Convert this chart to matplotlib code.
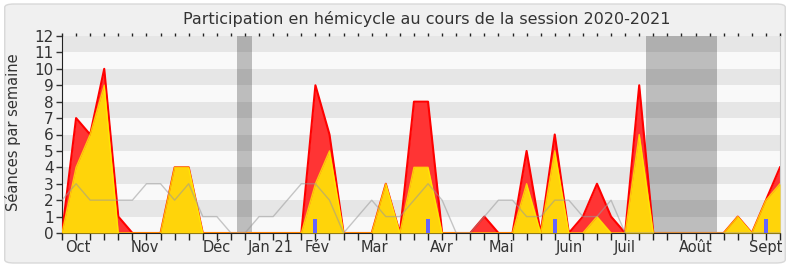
import numpy as np
import matplotlib.pyplot as plt
from matplotlib.patches import FancyBboxPatch

# semaines de la session (index 0 = fin septembre 2020)
weeks = np.arange(52)

presence = [0, 7, 6, 10, 1, 0, 0, 0, 4, 4, 0, 0, 0, 0, 0, 0, 0, 0, 9, 6,
            0, 0, 0, 3, 0, 8, 8, 0, 0, 0, 1, 0, 0, 5, 0, 6, 0, 1, 3, 1,
            0, 9, 0, 0, 0, 0, 0, 0, 1, 0, 2, 4]
interventions = [0, 4, 6, 9, 0, 0, 0, 0, 4, 4, 0, 0, 0, 0, 0, 0, 0, 0, 3, 5,
                 0, 0, 0, 3, 0, 4, 4, 0, 0, 0, 0, 0, 0, 3, 0, 5, 0, 0, 1, 0,
                 0, 6, 0, 0, 0, 0, 0, 0, 1, 0, 2, 3]
mediane = [2, 3, 2, 2, 2, 2, 3, 3, 2, 3, 1, 1, 0, 0, 1, 1, 2, 3, 3, 2,
           0, 1, 2, 1, 1, 2, 3, 2, 0, 0, 1, 2, 2, 1, 1, 2, 2, 1, 1, 2,
           0, 0, 0, 0, 0, 0, 0, 0, 0, 0, 0, 0]
questions = {18: 0.85, 26: 0.85, 35: 0.85, 50: 0.85}

vacances = [(12.45, 13.5), (41.5, 46.5)]

mois = ["Oct", "Nov", "Déc", "Jan 21", "Fév", "Mar", "Avr", "Mai",
        "Juin", "Juil", "Août", "Sept"]
mois_pos = [1.1, 5.9, 11.0, 14.85, 18.1, 22.2, 27.0, 31.2, 36.0, 39.95, 45.0, 50.0]

txt = "#333333"

fig = plt.figure(figsize=(7.9, 2.67), dpi=100)
fig.patch.set_facecolor("white")
fig.patches.append(FancyBboxPatch((0.006, 0.015), 0.988, 0.97,
                                  boxstyle="round,pad=0,rounding_size=0.012",
                                  transform=fig.transFigure, facecolor="#f0f0f0",
                                  edgecolor="#d8d8d8", linewidth=1, zorder=-10))

ax = fig.add_axes([62 / 790, 34 / 267, 718 / 790, 197 / 267])
ax.set_facecolor("#f9f9f9")
for k in range(1, 12, 2):
    ax.axhspan(k, k + 1, color="#e6e6e6", lw=0, zorder=0)
for a, b in vacances:
    ax.axvspan(a, b, color="black", alpha=0.24, lw=0, zorder=1)

ax.fill_between(weeks, presence, color="#ff3434", lw=0, zorder=2)
ax.plot(weeks, presence, color="#ff0000", lw=1.5, zorder=3)
ax.fill_between(weeks, interventions, color="#ffd40a", lw=0, zorder=4)
ax.plot(weeks, interventions, color="#ffee00", lw=1, alpha=0.8, zorder=5)
ax.plot(weeks, mediane, color="#9a9a9a", lw=1, alpha=0.55, zorder=6)
ax.bar(list(questions.keys()), list(questions.values()), width=0.28,
       color="#6464ff", zorder=7)

ax.set_xlim(0, 51)
ax.set_ylim(0, 12)
ax.set_yticks(range(13))
ax.tick_params(axis="y", labelsize=11, colors=txt, length=4, width=1, pad=2)
ax.xaxis.remove_overlapping_locs = False
ax.set_xticks(weeks, [""] * len(weeks))
ax.tick_params(axis="x", which="major", length=5, width=1, color="#222222",
               top=True)
ax.set_xticks(mois_pos, mois, minor=True)
ax.tick_params(axis="x", which="minor", length=0, pad=5, labelsize=10.5,
               labelcolor=txt)
for t in ax.xaxis.get_major_ticks():
    t.tick2line.set_markersize(2)

ax.spines["top"].set_visible(False)
ax.spines["right"].set_color("#cccccc")
ax.spines["left"].set_color("#222222")
ax.spines["bottom"].set_color("#222222")

fig.text(13 / 790, 1 - 132 / 267, "Séances par semaine", rotation=90,
         ha="center", va="center", fontsize=10.5, color=txt)
fig.text(427 / 790, 1 - 19 / 267,
         "Participation en hémicycle au cours de la session 2020-2021",
         ha="center", va="center", fontsize=11.5, color=txt)

fig.savefig("out.png", dpi=100, facecolor=fig.get_facecolor())
